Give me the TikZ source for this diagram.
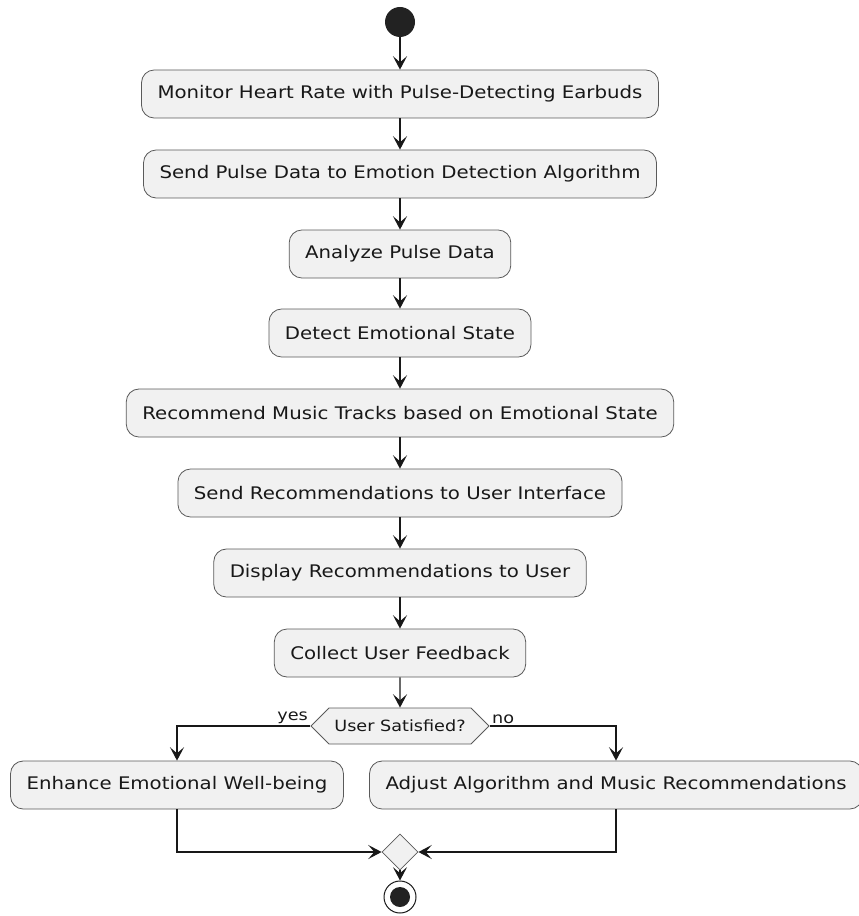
\documentclass[tikz,border=0pt]{standalone}
\usepackage{fontspec}
\setmainfont{DejaVu Sans}[FakeStretch=1.14]
\usetikzlibrary{arrows.meta,shapes.geometric,shapes.symbols}
\definecolor{umlfill}{HTML}{F1F1F1}
\definecolor{umlborder}{HTML}{5A5A5A}
\definecolor{umlline}{HTML}{181818}
\definecolor{umldot}{HTML}{222222}
\tikzset{every picture/.style={line width=0.75pt}}
\tikzset{
  action/.style={draw=umlborder, fill=umlfill, line width=0.6pt, rounded corners=9.5pt,
    minimum height=36pt, inner xsep=12pt, font=\fontsize{13}{15}\selectfont, text=umlline},
  choice/.style={draw=umlborder, fill=umlfill, line width=0.6pt, signal, signal to=west and east,
    signal pointer angle=90, minimum height=27pt, inner xsep=4pt, font=\fontsize{11.6}{14}\selectfont, text=umlline},
  merge/.style={draw=umlborder, fill=umlfill, line width=0.6pt, diamond, minimum size=27pt, inner sep=0pt},
  flow/.style={draw=umlline, line width=1pt, -{Stealth[length=10pt,width=10.5pt,inset=4.5pt]}},
  guard/.style={font=\fontsize{11.6}{14}\selectfont, inner sep=1.5pt, text=umlline},
}

\begin{document}
\begin{tikzpicture}[x=0.75pt,y=0.75pt,yscale=-1,xscale=1]
\useasboundingbox (0,0) rectangle (858,916);

% Start
\node (start) at (400,22) [circle, fill=umldot, minimum size=22.5pt, inner sep=0pt] {};
% Text Node
\node (monitor) at (400,94) [action] {Monitor Heart Rate with Pulse-Detecting Earbuds};
% Text Node
\node (send) at (400,174) [action] {Send Pulse Data to Emotion Detection Algorithm};
% Text Node
\node (analyze) at (400,254) [action] {Analyze Pulse Data};
% Text Node
\node (detect) at (400,333) [action] {Detect Emotional State};
% Text Node
\node (recommend) at (400,413) [action] {Recommend Music Tracks based on Emotional State};
% Text Node
\node (sendrec) at (400,493) [action] {Send Recommendations to User Interface};
% Text Node
\node (display) at (400,573) [action] {Display Recommendations to User};
% Text Node
\node (collect) at (400,653) [action] {Collect User Feedback};
% Decision
\node (satisfied) at (400,726) [choice] {User Satisfied?};
% Text Node
\node (enhance) at (177,785) [action] {Enhance Emotional Well-being};
% Text Node
\node (adjust) at (616,785) [action] {Adjust Algorithm and Music Recommendations};
% Merge
\node (join) at (400,852) [merge] {};
% End
\node (stop) at (400,897) [circle, draw=umlline, fill=white, line width=0.75pt, minimum size=24pt, inner sep=0pt] {};
\node (stopdot) at (stop) [circle, fill=umldot, minimum size=15pt, inner sep=0pt] {};

% Connection
\draw[flow] (start) -- (monitor);
% Connection
\draw[flow] (monitor) -- (send);
% Connection
\draw[flow] (send) -- (analyze);
% Connection
\draw[flow] (analyze) -- (detect);
% Connection
\draw[flow] (detect) -- (recommend);
% Connection
\draw[flow] (recommend) -- (sendrec);
% Connection
\draw[flow] (sendrec) -- (display);
% Connection
\draw[flow] (display) -- (collect);
% Connection
\draw[flow] (collect) -- (satisfied);
% Connection
\draw[flow] (satisfied.west) -| (enhance.north) node[pos=0, guard, anchor=south east] {yes};
% Connection
\draw[flow] (satisfied.east) -| (adjust.north) node[pos=0, guard, anchor=south west] {no};
% Connection
\draw[flow] (enhance.south) |- (join.west);
% Connection
\draw[flow] (adjust.south) |- (join.east);
% Connection
\draw[flow] (join) -- (stop);

\end{tikzpicture}
\end{document}
